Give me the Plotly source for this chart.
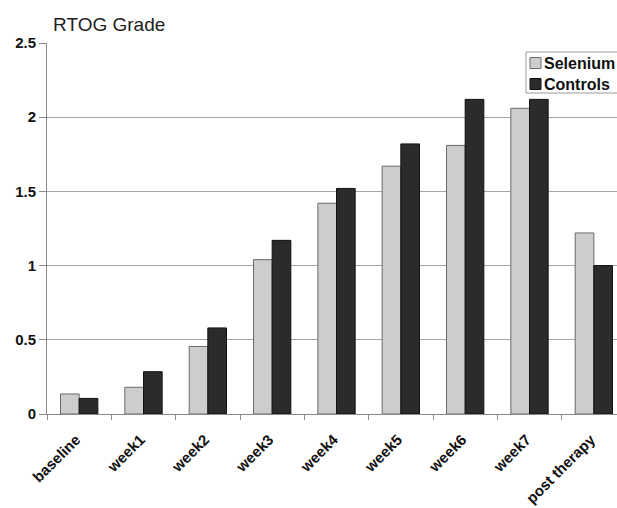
import plotly.graph_objects as go

categories = ["baseline", "week1", "week2", "week3", "week4", "week5", "week6", "week7", "post therapy"]
selenium = [0.135, 0.18, 0.455, 1.04, 1.42, 1.67, 1.81, 2.06, 1.22]
controls = [0.105, 0.285, 0.58, 1.17, 1.52, 1.82, 2.12, 2.12, 1.0]
y_ticks = [0, 0.5, 1, 1.5, 2, 2.5]
y_labels = ["0", "0.5", "1", "1.5", "2", "2.5"]
series_names = ["Selenium", "Controls"]
series_colors = ["#cdcdcd", "#2b2b2b"]
series_lines = ["#6a6a6a", "#111111"]

FONT = "Liberation Sans, Arial, sans-serif"
W, H = 617, 508
L, R, T, B = 47, 0, 43, 94
PW, PH = W - L - R, H - T - B


def px(x):
    return (x - L) / PW


def py(y):
    return (H - B - y) / PH


fig = go.Figure()
for name, vals, col, lc in zip(series_names, [selenium, controls], series_colors, series_lines):
    fig.add_trace(go.Bar(x=categories, y=vals, name=name,
                         marker=dict(color=col, line=dict(color=lc, width=1))))

fig.update_layout(
    width=W, height=H,
    margin=dict(l=L, r=R, t=T, b=B, autoexpand=False),
    paper_bgcolor="white", plot_bgcolor="white",
    barmode="group", bargap=0.42, bargroupgap=0,
    font=dict(family=FONT, color="#111111"),
    showlegend=False,
)

# title
fig.add_annotation(text="RTOG Grade", xref="paper", yref="paper",
                   x=px(51), y=py(24), xanchor="left", yanchor="middle",
                   showarrow=False, font=dict(family=FONT, size=19, color="#222222"))

# legend (drawn manually to match the box of the original)
fig.add_shape(type="rect", xref="paper", yref="paper",
              x0=px(526), x1=px(640), y0=py(52), y1=py(93),
              line=dict(color="#9a9a9a", width=1), fillcolor="white", layer="above")
for i, (name, col, lc) in enumerate(zip(series_names, series_colors, series_lines)):
    cy = 63 + i * 21
    fig.add_shape(type="rect", xref="paper", yref="paper",
                  x0=px(530), x1=px(541), y0=py(cy + 5.5), y1=py(cy - 5.5),
                  line=dict(color=lc, width=1), fillcolor=col, layer="above")
    fig.add_annotation(text=name, xref="paper", yref="paper",
                       x=px(542), y=py(cy), xanchor="left", yanchor="middle",
                       showarrow=False,
                       font=dict(family=FONT, size=16, color="#111111", weight="bold"))

fig.update_xaxes(
    range=[-0.5, 8.36], showline=True, linecolor="#8a8a8a", linewidth=1,
    ticks="outside", tickson="boundaries", ticklen=5, tickcolor="#8a8a8a",
    tickangle=-45, tickfont=dict(family=FONT, size=15, color="#111111", weight="bold"),
    ticklabelstandoff=10, ticklabelshift=-3,
    showgrid=False, automargin=False,
)
fig.update_yaxes(
    range=[0, 2.5], tickvals=y_ticks, ticktext=y_labels,
    showline=True, linecolor="#8a8a8a", linewidth=1,
    ticks="outside", ticklen=7, tickcolor="#8a8a8a",
    showgrid=True, gridcolor="#a5a5a5", gridwidth=1,
    tickfont=dict(family=FONT, size=15, color="#111111", weight="bold"),
    zeroline=False, automargin=False,
)

fig.write_html("out.html")
